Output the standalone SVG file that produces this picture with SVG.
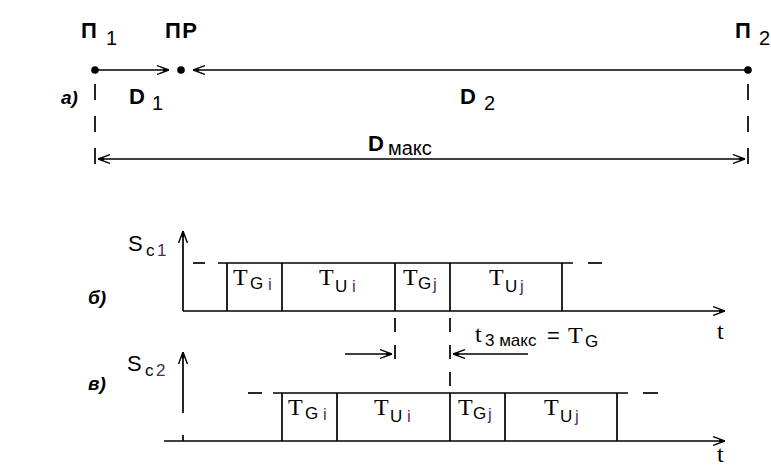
<svg xmlns="http://www.w3.org/2000/svg" width="771" height="468" viewBox="0 0 771 468">
<defs>
<marker id="ah" markerUnits="userSpaceOnUse" viewBox="0 0 12 10" refX="12" refY="5" markerWidth="12" markerHeight="10" orient="auto-start-reverse">
<path d="M0,0.6 L12,5 L0,9.4" fill="none" stroke="#000" stroke-width="1.4"/>
<path d="M6,3.4 L12,5 L6,6.6 Z" fill="#000"/>
</marker>
</defs>
<style>
.ln{stroke:#000;stroke-width:1.7;fill:none}
.dash{stroke:#000;stroke-width:1.7;fill:none;stroke-dasharray:16 16}
.dash2{stroke:#000;stroke-width:1.7;fill:none;stroke-dasharray:14 13}
.lbl{font-family:"Liberation Sans",Arial,sans-serif;font-weight:bold;font-size:22px}
.sub{font-family:"Liberation Sans",Arial,sans-serif;font-weight:normal;font-size:20px}
.it{font-family:"Liberation Sans",Arial,sans-serif;font-weight:bold;font-style:italic;font-size:19px}
.ser{font-family:"Liberation Serif","Times New Roman",serif;font-size:24px}
.ss{font-family:"Liberation Sans",Arial,sans-serif;font-size:17px}
.sl{font-family:"Liberation Sans",Arial,sans-serif;font-size:22px}
.pu{fill:#5a2a6e}
</style>
<rect width="771" height="468" fill="#fff"/>

<!-- part a -->
<g id="connectors">
<line x1="95" y1="70" x2="169" y2="70" class="ln" marker-end="url(#ah)"/>
<line x1="748" y1="70" x2="193" y2="70" class="ln" marker-end="url(#ah)"/>
<line x1="95" y1="84" x2="95" y2="165" class="dash"/>
<line x1="748" y1="84" x2="748" y2="165" class="dash"/>
<line x1="98" y1="159" x2="745" y2="159" class="ln" marker-start="url(#ah)" marker-end="url(#ah)"/>
</g>
<g id="p1"><circle cx="95" cy="70" r="3.8"/><text x="81" y="38" class="lbl">П<tspan class="sub" x="106" y="45">1</tspan></text></g>
<g id="pr"><circle cx="181" cy="70" r="3.8"/><text x="165" y="38" class="lbl" font-size="25" letter-spacing="1.5">ПР</text></g>
<g id="p2"><circle cx="748" cy="70" r="3.8"/><text x="735" y="38" class="lbl">П<tspan class="sub" x="759" y="45">2</tspan></text></g>
<text x="129" y="104" class="lbl" font-size="24">D<tspan class="sub" x="152" y="110">1</tspan></text>
<text x="460" y="104" class="lbl" font-size="24">D<tspan class="sub" x="484" y="110">2</tspan></text>
<text x="368" y="151" class="lbl" font-size="24">D<tspan class="sub" font-size="21" x="388" y="155">макс</tspan></text>
<text x="61" y="104" class="it">а)</text>

<!-- part b -->
<g id="diagram-b">
<text x="88" y="304" class="it">б)</text>
<line x1="183" y1="311" x2="183" y2="231" class="ln" marker-end="url(#ah)"/>
<line x1="183" y1="311" x2="725" y2="311" class="ln" marker-end="url(#ah)"/>
<text x="128" y="251" class="sl">S<tspan class="ss" font-size="19" x="146" y="256">c</tspan><tspan class="ss" font-size="19" fill="#4a2a5a" x="157" y="256">1</tspan></text>
<line x1="193" y1="263" x2="205" y2="263" class="ln"/>
<line x1="218" y1="263" x2="573" y2="263" class="ln"/>
<line x1="588" y1="263" x2="602" y2="263" class="ln"/>
<path d="M227,263V311M282,263V311M395,263V311M450,263V311M562,263V311" class="ln"/>
<text class="ser"><tspan x="233" y="285">T</tspan><tspan class="ss" x="250" y="289">G</tspan><tspan class="ss pu" x="268" y="290">i</tspan></text>
<text class="ser"><tspan x="319" y="285">T</tspan><tspan class="ss" x="335" y="292">U</tspan><tspan class="ss pu" x="352" y="292">i</tspan></text>
<text class="ser"><tspan x="403" y="285">T</tspan><tspan class="ss" x="418" y="289">G</tspan><tspan class="ss pu" x="433" y="290">j</tspan></text>
<text class="ser"><tspan x="489" y="285">T</tspan><tspan class="ss" x="505" y="292">U</tspan><tspan class="ss pu" x="520" y="292">j</tspan></text>
<text x="717" y="339" class="ser">t</text>
<line x1="395" y1="318" x2="395" y2="360" class="dash2"/>
<line x1="450" y1="318" x2="450" y2="393" class="dash2"/>
<line x1="345" y1="354" x2="392" y2="354" class="ln" marker-end="url(#ah)"/>
<line x1="528" y1="354" x2="453" y2="354" class="ln" marker-end="url(#ah)"/>
<text class="ser"><tspan x="475" y="342">t</tspan><tspan class="ss" font-size="19" x="485" y="346">3 макс</tspan><tspan class="sl" font-size="25" x="547" y="343">=</tspan><tspan x="568" y="343">T</tspan><tspan class="ss" font-size="19" x="585" y="347">G</tspan></text>
</g>

<!-- part c -->
<g id="diagram-c">
<text x="88" y="390" class="it">в)</text>
<line x1="183" y1="413" x2="183" y2="352" class="ln" marker-end="url(#ah)"/>
<line x1="183" y1="435" x2="183" y2="441" class="ln"/>
<line x1="164" y1="441" x2="725" y2="441" class="ln" marker-end="url(#ah)"/>
<text x="127" y="371" class="sl">S<tspan class="ss" font-size="19" x="145" y="376">c</tspan><tspan class="ss" font-size="19" fill="#4a2a5a" x="156" y="376">2</tspan></text>
<line x1="248" y1="393" x2="262" y2="393" class="ln"/>
<line x1="273" y1="393" x2="628" y2="393" class="ln"/>
<line x1="643" y1="393" x2="658" y2="393" class="ln"/>
<path d="M282,393V441M337,393V441M450,393V441M505,393V441M617,393V441" class="ln"/>
<text class="ser"><tspan x="288" y="415">T</tspan><tspan class="ss" x="305" y="419">G</tspan><tspan class="ss pu" x="323" y="420">i</tspan></text>
<text class="ser"><tspan x="374" y="415">T</tspan><tspan class="ss" x="390" y="422">U</tspan><tspan class="ss pu" x="407" y="422">i</tspan></text>
<text class="ser"><tspan x="458" y="415">T</tspan><tspan class="ss" x="473" y="419">G</tspan><tspan class="ss pu" x="488" y="420">j</tspan></text>
<text class="ser"><tspan x="544" y="415">T</tspan><tspan class="ss" x="560" y="422">U</tspan><tspan class="ss pu" x="575" y="422">j</tspan></text>
<text x="717" y="462" class="ser">t</text>
</g>
</svg>
